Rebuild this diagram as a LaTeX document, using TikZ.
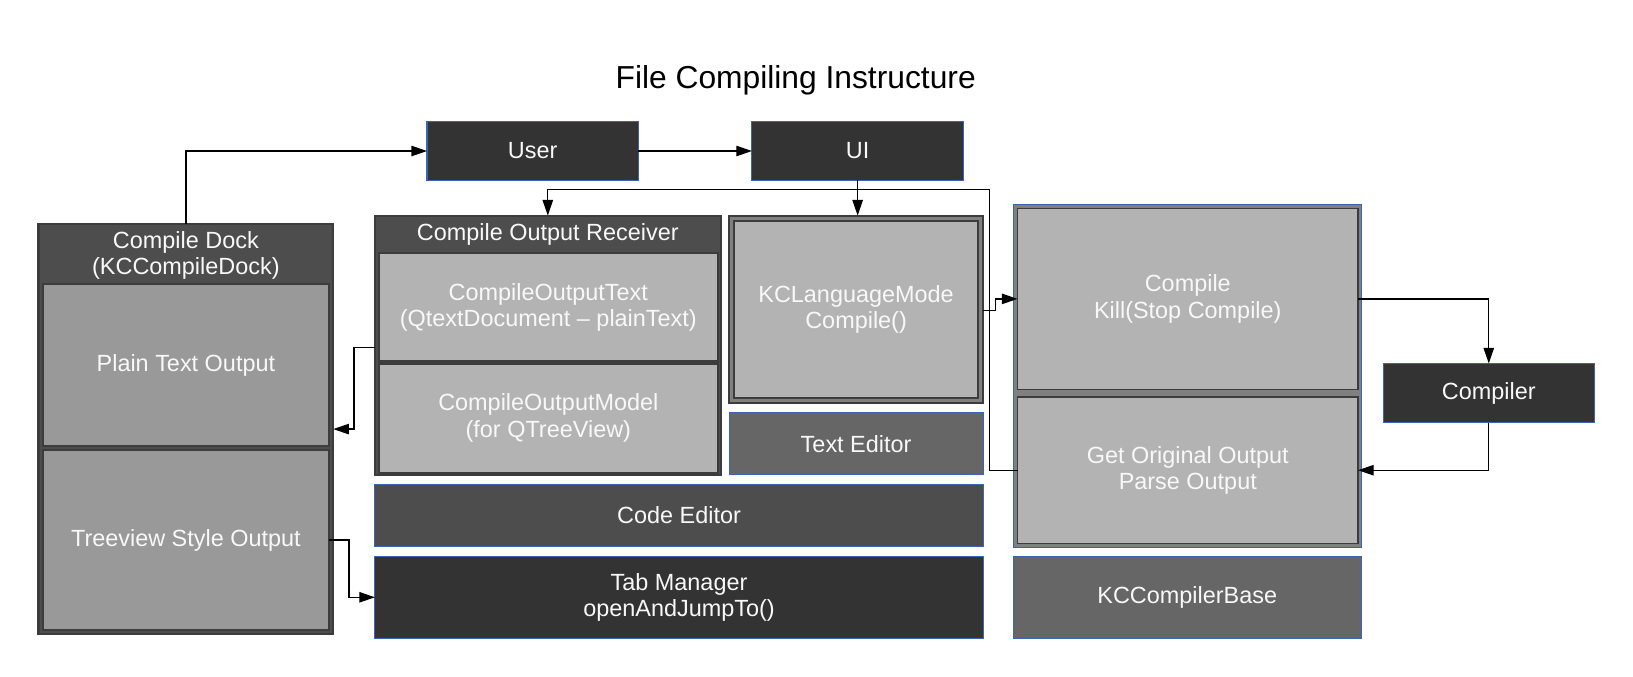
\documentclass[tikz,border=0pt]{standalone}
\usepackage{fontspec}
\setmainfont{Liberation Sans}
\usetikzlibrary{arrows.meta,calc}
\definecolor{cA}{HTML}{333333}
\definecolor{cB}{HTML}{4D4D4D}
\definecolor{cC}{HTML}{666666}
\definecolor{cD}{HTML}{808080}
\definecolor{cE}{HTML}{999999}
\definecolor{cF}{HTML}{B3B3B3}
\definecolor{bblue}{HTML}{3A66B0}
\definecolor{bdark}{HTML}{3C3C3C}
\definecolor{txt}{HTML}{F8F8F8}
\tikzset{
  box/.style={rectangle, inner sep=0pt, outer sep=0pt, text=txt, align=center,
     font=\fontsize{22.5}{25.5}\selectfont},
  bluebox/.style={box, draw=bblue, line width=1pt},
  darkbox/.style={box, draw=bdark, line width=2pt},
  lbl/.style={text=txt, align=center, inner sep=0pt, font=\fontsize{22.5}{25}\selectfont},
  arr/.style={draw=black, line width=1.2pt, -{Triangle[length=15pt,width=10pt]}},
}
\begin{document}
\begin{tikzpicture}[x=1pt,y=-1pt]
\useasboundingbox (0,0) rectangle (1568,650);
\node[font=\fontsize{30.5}{34}\selectfont] (title) at (764,77) {File Compiling Instructure};
% top
\node[bluebox, fill=cA, minimum width=203pt, minimum height=56pt] (user) at (511.5,145) {User};
\node[bluebox, fill=cA, minimum width=203pt, minimum height=56pt] (ui) at (823.5,145) {UI};
% dock
\node[darkbox, fill=cB, minimum width=283pt, minimum height=394pt] (dock) at (178.5,412) {};
\node[lbl] (docktitle) at (178.5,245) {Compile Dock\\(KCCompileDock)};
\node[darkbox, fill=cE, minimum width=275pt, minimum height=155pt] (plain) at (178.5,350.5) {Plain Text Output};
\node[darkbox, fill=cE, minimum width=275pt, minimum height=173pt] (tree) at (178.5,518.5) {Treeview Style Output};
% receiver
\node[darkbox, fill=cB, minimum width=332pt, minimum height=249pt] (recv) at (526,331.5) {};
\node[lbl] (recvtitle) at (526,225) {Compile Output Receiver};
\node[darkbox, fill=cF, minimum width=325pt, minimum height=104pt] (cot) at (526.5,295) {CompileOutputText\\(QtextDocument -- plainText)};
\node[darkbox, fill=cF, minimum width=325pt, minimum height=105pt] (com) at (526.5,401.5) {CompileOutputModel\\(for QTreeView)};
% language mode
\node[darkbox, fill=cD, minimum width=244pt, minimum height=180pt] (klmo) at (822,297) {};
\node[darkbox, fill=cF, line width=1.5pt, minimum width=234pt, minimum height=170pt] (klm) at (822,297) {KCLanguageMode\\Compile()};
\node[bluebox, fill=cC, minimum width=244pt, minimum height=60pt] (texted) at (822,426) {Text Editor};
\node[bluebox, fill=cB, minimum width=584pt, minimum height=60pt] (codeed) at (652,495) {Code Editor};
\node[bluebox, fill=cA, minimum width=584pt, minimum height=79pt] (tabm) at (652,573.5) {Tab Manager\\openAndJumpTo()};
% compiler base
\node[bluebox, fill=cD, minimum width=334pt, minimum height=330pt] (rc) at (1140,361) {};
\node[darkbox, fill=cF, line width=1.5pt, minimum width=327pt, minimum height=174pt] (compile) at (1140.5,287) {Compile\\Kill(Stop Compile)};
\node[darkbox, fill=cF, line width=1.5pt, minimum width=327pt, minimum height=141pt] (getout) at (1140.5,451.5) {Get Original Output\\Parse Output};
\node[bluebox, fill=cC, minimum width=334pt, minimum height=79pt] (kcbase) at (1140,573.5) {KCCompilerBase};
\node[bluebox, fill=cA, minimum width=203pt, minimum height=57pt] (compiler) at (1429.5,377.5) {Compiler};
% helper coordinates
\coordinate (j1) at (950,182);
\coordinate (p1) at (0,412);
% connectors
\draw[arr] (dock.north) |- (user.west);
\draw[arr] (user.east) -- (ui.west);
\draw[arr] (ui.south) -- (ui.south |- klmo.north);
\draw[arr] (getout.west) -| (j1) -| (recv.north);
\draw[arr] ([yshift=-1pt]klmo.east) -- ++(12,0) |- (compile.west);
\draw[arr] (compile.east) -| (compiler.north);
\draw[arr] (compiler.south) |- (getout.east);
\draw[arr] ([yshift=-2pt]recv.west) -- ++(-20,0) |- (dock.east |- p1);
\draw[arr] (tree.east) -- ++(19,0) |- (tabm.west);
\end{tikzpicture}
\end{document}
